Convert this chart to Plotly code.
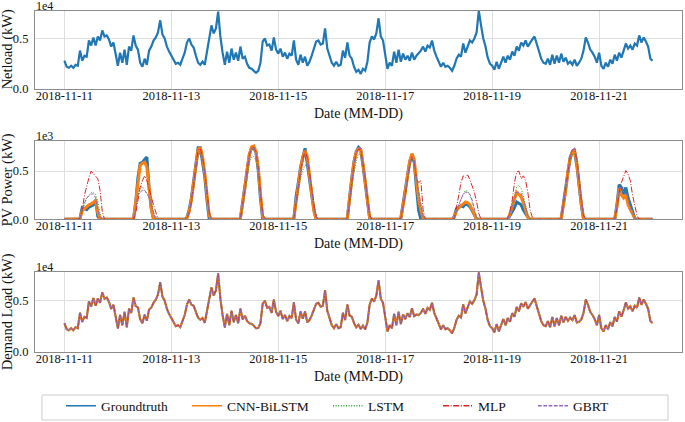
import pandas as pd
import plotly.graph_objects as go

# ---------------- data (hourly, 2018-11-11 00:00 .. 2018-11-22 00:00) ----------------
start_time = "2018-11-11 00:00"
n_days = 11

netload_days = [
    [2800,2200,2100,2300,2100,2400,2300,3800,2800,3300,3200,4800,4300,5100,4300,5200,4800,5800,5200,5300,4900,4200,4600,3500],
    [2300,3600,2600,3900,2400,4200,3800,5300,4300,3900,2600,2200,3000,2400,3800,4200,4800,5100,5600,6800,5400,5000,4200,3700],
    [3300,3000,2500,2600,2400,3000,3600,4600,5000,4400,4100,3300,2600,2400,2700,2400,3700,5200,6300,5500,6000,7650,5200,3600],
    [2400,3700,2600,4000,2900,3600,2800,4200,3000,3200,2500,2100,2000,1800,1600,1800,2600,4700,5000,4300,4400,3800,5100,3900],
    [3500,4000,3200,3600,3000,3500,3300,4800,2900,2400,3400,2600,3200,2300,2700,3300,4000,4700,4800,4400,4500,6000,4000,3200],
    [2600,2300,2700,2300,2400,3800,3100,4600,3300,3000,2200,1700,1900,1500,2000,1800,2700,4600,5200,4900,5500,7000,5200,4800],
    [3400,2000,2600,2300,3700,2600,3900,2700,3500,2900,3300,2800,3600,2900,3300,3500,3800,4200,3700,4300,4100,4800,3800,3200],
    [2700,2200,2600,2200,2300,2100,1800,2300,3000,3400,3200,4500,3600,4200,4800,4600,5000,5600,7750,6300,5000,4200,3100,2500],
    [2300,1900,2700,2000,2600,3200,2600,3300,2900,3700,3300,4200,3800,4600,4300,4800,4200,4600,4900,5200,4500,3800,3000,2600],
    [2500,3000,2400,3400,2500,3300,2600,3500,2700,3100,2500,2700,2400,2900,2300,2600,3000,3800,5100,4600,3900,3600,3200,2600],
    [3600,2300,2000,2600,2200,2900,2500,3400,2800,3600,3100,3800,4500,4000,4300,3900,4500,4300,5300,4600,5100,4700,4200,3000],
]
netload_last = 2800

demand_days = [
    [2800,2200,2100,2300,2100,2400,2300,3810,2920,3410,3300,4925,4440,5250,4500,5230,4800,5800,5200,5300,4900,4200,4600,3500],
    [2300,3600,2600,3900,2400,4200,3800,5300,4470,4330,3180,2790,3620,3045,4130,4310,4800,5100,5600,6800,5400,5000,4200,3700],
    [3300,3000,2500,2600,2400,3000,3600,4620,5100,4620,4500,3900,3340,3140,3300,2840,3900,5200,6300,5500,6000,7650,5200,3600],
    [2400,3700,2600,4000,2900,3600,2800,4210,3170,3530,3020,2770,2735,2540,2290,2310,2815,4700,5000,4300,4400,3800,5100,3900],
    [3500,4000,3200,3600,3000,3500,3300,4810,3140,2780,3940,3240,3935,2880,3100,3550,4100,4700,4800,4400,4500,6000,4000,3200],
    [2600,2300,2700,2300,2400,3800,3100,4610,3550,3430,2800,2400,2645,2220,2560,2180,2860,4610,5200,4900,5500,7000,5200,4800],
    [3400,2000,2600,2300,3700,2600,3900,2710,3650,3200,3760,3400,4265,3490,3630,3590,3800,4200,3700,4300,4100,4800,3800,3200],
    [2700,2200,2600,2200,2300,2100,1800,2330,3110,3520,3340,4630,3760,4350,4930,4690,5040,5600,7750,6300,5000,4200,3100,2500],
    [2300,1900,2700,2000,2600,3200,2600,3300,2940,3780,3420,4380,3965,4750,4395,4860,4220,4600,4900,5200,4500,3800,3000,2600],
    [2500,3000,2400,3400,2500,3300,2600,3510,2880,3400,3020,3340,3100,3590,2860,2930,3150,3800,5100,4600,3900,3600,3200,2600],
    [3600,2300,2000,2600,2200,2900,2500,3400,2950,3960,3430,4060,4830,4220,4450,3970,4510,4300,5300,4600,5100,4700,4200,3000],
]
demand_last = 2800

# PV: daylight hours 06:00 .. 19:00 for each day; zero at all other hours
pv_hours = list(range(6, 20))
pv_truth = [
    [0,10,120,110,100,125,140,150,200,30,0,0,0,0],
    [0,0,170,430,580,590,620,645,330,110,0,0,0,0],
    [0,20,100,220,400,600,740,740,600,440,200,0,0,0],
    [0,10,170,330,520,670,735,740,690,510,215,0,0,0],
    [0,10,240,380,540,640,735,580,400,250,100,0,0,0],
    [0,10,250,430,600,700,745,720,560,380,160,10,0,0],
    [0,10,150,300,460,600,665,590,330,90,0,0,0,0],
    [0,30,110,120,140,130,160,150,130,90,40,0,0,0],
    [0,0,40,80,120,180,165,150,95,60,20,0,0,0],
    [0,10,180,300,520,640,700,690,560,330,150,0,0,0],
    [0,0,150,360,330,260,330,220,150,70,10,0,0,0],
]
pv_cnn = [
    [0,5,90,110,135,150,160,175,190,70,5,0,0,0],
    [0,0,180,400,560,580,590,540,330,110,0,0,0,0],
    [0,10,80,200,380,580,720,745,650,480,250,40,0,0],
    [0,10,150,320,510,670,750,760,700,540,260,30,0,0],
    [0,10,200,360,520,650,710,650,480,270,80,0,0,0],
    [0,10,230,420,590,700,730,720,580,400,190,20,0,0],
    [0,10,130,280,450,600,680,620,400,200,90,10,0,0],
    [0,20,90,120,140,165,180,170,150,100,40,0,0,0],
    [0,0,60,130,200,280,260,230,170,80,20,0,0,0],
    [0,10,160,290,500,630,700,710,580,360,160,10,0,0],
    [0,0,130,320,250,220,250,150,100,50,10,0,0,0],
]
pv_lstm = [
    [0,10,80,150,220,250,280,280,260,180,60,0,0,0],
    [0,0,100,250,330,340,290,270,230,150,80,20,0,0],
    [0,10,60,160,330,520,650,690,640,490,270,60,0,0],
    [0,10,120,270,440,580,640,650,610,480,260,50,0,0],
    [0,10,150,290,420,510,560,560,460,300,120,20,0,0],
    [0,10,180,340,480,600,680,670,560,400,200,30,0,0],
    [0,10,110,240,400,540,610,590,420,260,120,20,0,0],
    [0,10,80,140,200,260,300,290,250,180,90,20,0,0],
    [0,0,60,140,250,340,350,320,240,140,50,10,0,0],
    [0,10,150,270,460,600,670,680,600,400,190,30,0,0],
    [0,0,120,280,300,330,310,250,180,100,30,0,0,0],
]
pv_mlp = [
    [0,10,100,250,350,430,500,470,450,420,300,80,0,0],
    [0,0,60,180,330,400,450,400,300,230,150,70,0,0],
    [0,10,70,190,370,570,720,730,650,480,270,80,0,0],
    [0,10,140,310,500,660,740,745,700,540,280,60,0,0],
    [0,10,190,340,500,630,700,640,500,330,150,30,0,0],
    [0,10,220,400,570,690,730,720,590,430,220,40,0,0],
    [0,10,120,260,420,560,650,600,420,380,400,100,0,0],
    [0,10,120,250,380,450,430,460,410,350,280,180,60,0],
    [0,10,80,200,380,490,500,420,450,400,280,100,20,0],
    [0,10,170,300,500,650,720,730,620,400,200,40,0,0],
    [0,0,120,280,380,440,505,470,400,250,140,40,0,0],
]
pv_gbrt = [
    [0,10,110,170,220,240,260,265,220,100,20,0,0,0],
    [0,0,120,250,280,300,300,270,220,140,60,0,0,0],
    [0,10,70,180,350,540,670,690,630,470,250,50,0,0],
    [0,10,140,300,490,650,740,750,690,530,260,40,0,0],
    [0,10,180,330,480,600,660,640,500,300,120,20,0,0],
    [0,10,220,400,570,690,745,740,600,420,200,30,0,0],
    [0,10,120,260,430,580,640,610,420,280,160,30,0,0],
    [0,10,90,150,210,260,280,280,260,200,110,20,0,0],
    [0,0,60,140,220,280,280,270,210,120,40,0,0,0],
    [0,10,170,290,490,640,720,745,640,420,200,30,0,0],
    [0,0,140,330,330,280,270,180,120,60,10,0,0,0],
]

series_names = ["Groundtruth", "CNN-BiLSTM", "LSTM", "MLP", "GBRT"]
x_tick_labels = ["2018-11-11", "2018-11-13", "2018-11-15", "2018-11-17", "2018-11-19", "2018-11-21"]

# ---------------- assemble series ----------------
times = pd.date_range(start_time, periods=n_days * 24 + 1, freq="h")

def flatten(days, last):
    out = [v for d in days for v in d]
    out.append(last)
    return out

def pv_full(days):
    out = [0] * (n_days * 24 + 1)
    for d, vals in enumerate(days):
        for h, v in zip(pv_hours, vals):
            out[d * 24 + h] = v
    return out

netload = flatten(netload_days, netload_last)
demand_truth = flatten(demand_days, demand_last)
# model demand forecasts are indistinguishable from the ground truth at this scale
demand_series = [demand_truth, list(demand_truth), list(demand_truth), list(demand_truth), list(demand_truth)]
pv_series = [pv_full(p) for p in (pv_truth, pv_cnn, pv_lstm, pv_mlp, pv_gbrt)]

# ---------------- styling ----------------
colors = ["#1f77b4", "#ff7f0e", "#2ca02c", "#d62728", "#9467bd"]
dashes = ["solid", "solid", "1px,1.6px", "6px,1.6px,1px,1.6px", "3.7px,1.6px"]
pv_widths = [3, 3, 1, 1, 1]
dem_widths = [2, 2, 1, 1, 1]

FONT = "Liberation Serif, Times New Roman, serif"
W, H = 685, 422
L, R = 35, 3
PW = W - L - R

def py(px):
    return 1 - px / H

def pxx(px):
    return (px - L) / PW

panels = {  # pixel top / bottom of each plot box
    1: (10.7, 89.0),
    2: (140.7, 219.3),
    3: (271.7, 351.7),
}

fig = go.Figure()
fig.add_trace(go.Scatter(x=times, y=netload, mode="lines", line=dict(color=colors[0], width=2.2),
                         showlegend=False, xaxis="x", yaxis="y"))
for i, name in enumerate(series_names):
    fig.add_trace(go.Scatter(x=times, y=pv_series[i], mode="lines", name=name,
                             line=dict(color=colors[i], width=pv_widths[i], dash=dashes[i]),
                             xaxis="x2", yaxis="y2", showlegend=False))
for i, name in enumerate(series_names):
    fig.add_trace(go.Scatter(x=times, y=demand_series[i], mode="lines", name=name,
                             line=dict(color=colors[i], width=dem_widths[i], dash=dashes[i]),
                             xaxis="x3", yaxis="y3", showlegend=False))

# legend entries (one small legend per entry so each can sit where the reference puts it)
legend_text_px = [101, 227, 368, 478, 573]
for i, name in enumerate(series_names):
    lg = "legend" if i == 0 else "legend%d" % (i + 1)
    fig.add_trace(go.Scatter(x=[None], y=[None], mode="lines", name=name, legend=lg,
                             line=dict(color=colors[i], width=1.5, dash=dashes[i]),
                             xaxis="x2", yaxis="y2", showlegend=True))

x_range = ["2018-11-10 10:48", "2018-11-22 13:12"]
tickvals_x = pd.to_datetime(x_tick_labels)
frame = "#8c8c8c"
grid = "#dedede"

axis_common_x = dict(range=x_range, tickvals=tickvals_x, ticktext=x_tick_labels, showgrid=True,
                     gridcolor=grid, gridwidth=1, showline=True, linecolor=frame, linewidth=1.2,
                     mirror=True, ticks="", tickfont=dict(family=FONT, size=12.5, color="#111"),
                     zeroline=False, domain=[0, 1], automargin=False, ticklabelstandoff=-5)
axis_common_y = dict(showgrid=True, gridcolor=grid, gridwidth=1, showline=True, linecolor=frame,
                     linewidth=1.2, mirror=True, ticks="", zeroline=False, automargin=False,
                     tickfont=dict(family=FONT, size=12.5, color="#111"), ticklabelstandoff=3)

layout = dict(width=W, height=H, margin=dict(l=L, r=R, t=0, b=0), paper_bgcolor="white",
              plot_bgcolor="white", font=dict(family=FONT, color="#111"))
y_specs = {
    1: dict(range=[0, 7750], tickvals=[0, 5000], ticktext=["0.0", "0.5"]),
    2: dict(range=[0, 814], tickvals=[0, 500], ticktext=["0.0", "0.5"]),
    3: dict(range=[0, 7840], tickvals=[0, 5000], ticktext=["0.0", "0.5"]),
}
for k in (1, 2, 3):
    top, bot = panels[k]
    sx = "" if k == 1 else str(k)
    layout["xaxis" + sx] = dict(axis_common_x, anchor="y" + sx)
    layout["yaxis" + sx] = dict(axis_common_y, anchor="x" + sx, domain=[py(bot), py(top)], **y_specs[k])

for i in range(5):
    lg = "legend" if i == 0 else "legend%d" % (i + 1)
    layout[lg] = dict(orientation="h", x=pxx(legend_text_px[i] - 40), y=py(406), xanchor="left",
                      yanchor="middle", borderwidth=0, bgcolor="rgba(0,0,0,0)",
                      font=dict(family=FONT, size=13.5, color="#111"))
fig.update_layout(**layout)

ann = []
y_titles = {1: "Netload (kW)", 2: "PV Power (kW)", 3: "Demand Load (kW)"}
exps = {1: "1e4", 2: "1e3", 3: "1e4"}
for k in (1, 2, 3):
    top, bot = panels[k]
    ann.append(dict(text=y_titles[k], x=pxx(7.5), y=py((top + bot) / 2), xref="paper", yref="paper",
                    textangle=-90, showarrow=False, xanchor="center", yanchor="middle",
                    font=dict(family=FONT, size=14.5, color="#111")))
    ann.append(dict(text=exps[k], x=0, y=py(top - 12.5), xref="paper", yref="paper", showarrow=False,
                    xanchor="left", yanchor="top", borderpad=0,
                    font=dict(family=FONT, size=12, color="#111")))
    ann.append(dict(text="Date (MM-DD)", x=0.5, y=py(bot + 25), xref="paper", yref="paper",
                    showarrow=False, xanchor="center", yanchor="middle",
                    font=dict(family=FONT, size=14, color="#111")))
fig.update_layout(annotations=ann)

# legend frame
fig.add_shape(type="rect", xref="paper", yref="paper", x0=pxx(42), x1=pxx(668), y0=py(420), y1=py(395),
              line=dict(color="#cccccc", width=1), fillcolor="rgba(0,0,0,0)", layer="below")

fig.write_html("out.html", config={"displayModeBar": False},
               post_script="document.body.style.margin='0';document.body.style.padding='0';")
